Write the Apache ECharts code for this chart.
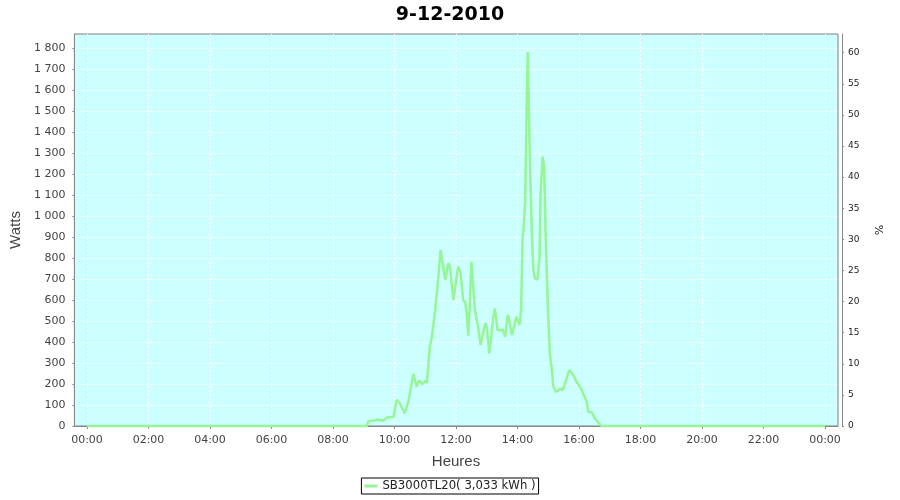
<!DOCTYPE html>
<html>
<head>
<meta charset="utf-8">
<script src="https://cdn.jsdelivr.net/npm/echarts@6/dist/echarts.min.js"></script>
<style>
html,body{margin:0;padding:0;background:#fff;}
#chart{width:900px;height:500px;}
</style>
</head>
<body>
<div id="chart"></div>
<script>
// ---- data ----
const chartTitle = '9-12-2010';
const seriesName = 'SB3000TL20( 3,033 kWh )';
const times = ['00:00','08:53','09:06','09:09','09:12','09:28','09:38','09:45','09:58','10:04','10:10','10:20','10:27','10:34','10:37','10:39','10:43','10:48','10:55','11:00','11:03','11:06','11:09','11:13','11:19','11:25','11:30','11:33','11:39','11:40','11:45','11:48','11:55','11:57','12:04','12:08','12:11','12:14','12:18','12:21','12:24','12:27','12:30','12:32','12:37','12:44','12:48','12:51','12:57','13:00','13:05','13:08','13:13','13:16','13:21','13:27','13:31','13:36','13:41','13:43','13:49','13:52','13:58','14:04','14:07','14:10','14:12','14:15','14:18','14:20','14:22','14:24','14:28','14:31','14:34','14:39','14:43','14:45','14:49','14:52','14:55','14:59','15:03','15:07','15:10','15:15','15:19','15:23','15:28','15:35','15:41','15:49','15:55','16:02','16:08','16:15','16:18','16:25','16:31','16:38','16:44','24:00'];
const watts = [0,0,0,22,25,30,25,40,43,124,110,60,116,211,248,248,187,216,200,216,205,290,378,425,544,695,838,830,695,695,775,760,600,600,759,740,679,600,590,537,430,584,782,775,550,457,386,392,489,470,346,352,520,560,457,455,460,425,529,515,433,440,520,481,552,900,941,1068,1521,1782,1778,1283,917,743,703,697,806,1100,1283,1235,902,584,346,267,187,163,168,178,170,219,267,243,211,187,156,116,68,65,37,16,0,0];
const hourTicks = [0,2,4,6,8,10,12,14,16,18,20,22,24];
const wattsMax = 1866.67;
const percentMax = 63;

const toHours = t => { const p = t.split(':'); return (+p[0]) + (+p[1]) / 60; };
const seriesData = times.map((t, i) => [toHours(t), watts[i]]);
const pad = n => (n < 10 ? '0' : '') + n;

const chart = echarts.init(document.getElementById('chart'));
const dashed = { color: '#ffffff', width: 1, type: [2, 2] };
const axisGray = '#888888';

chart.setOption({
  animation: false,
  backgroundColor: '#ffffff',
  title: {
    text: chartTitle, left: 'center', top: 1,
    textStyle: { fontFamily: 'DejaVu Sans', fontSize: 19, fontWeight: 'bold', color: '#000' }
  },
  legend: {
    data: [seriesName], left: 'center', top: 478,
    icon: 'rect', itemWidth: 13, itemHeight: 3, itemGap: 4,
    padding: [2, 3, 2, 3], borderColor: '#000', borderWidth: 1, backgroundColor: '#fff',
    textStyle: { fontFamily: 'DejaVu Sans', fontSize: 11.7, color: '#222' }
  },
  grid: [
    { left: 74, right: 62, top: 34, bottom: 74, show: true, backgroundColor: '#CCFFFF', borderColor: '#808080', borderWidth: 1 },
    { left: 87, right: 75, top: 34, bottom: 74 }
  ],
  xAxis: [
    { gridIndex: 0, type: 'value', min: 0, max: 1, offset: 4,
      axisLine: { show: true, lineStyle: { color: axisGray } },
      axisTick: { show: false }, axisLabel: { show: false }, splitLine: { show: false } },
    { gridIndex: 1, type: 'value', min: 0, max: 24, interval: 2, offset: 4,
      name: 'Heures', nameLocation: 'middle', nameGap: 24,
      nameTextStyle: { fontFamily: 'Liberation Sans', fontSize: 15, color: '#444' },
      axisLine: { show: false },
      axisTick: { show: true, length: 3, lineStyle: { color: axisGray } },
      axisLabel: { margin: 5, fontFamily: 'DejaVu Sans', fontSize: 11, color: '#444',
        formatter: v => pad(Math.round(v) % 24) + ':00' },
      splitLine: { show: true, lineStyle: dashed } }
  ],
  yAxis: [
    { gridIndex: 0, type: 'value', position: 'left', min: 0, max: wattsMax, interval: 100, offset: 4,
      name: 'Watts', nameLocation: 'middle', nameGap: 45, nameRotate: 90,
      nameTextStyle: { fontFamily: 'Liberation Sans', fontSize: 15, color: '#444' },
      axisLine: { show: true, lineStyle: { color: axisGray } },
      axisTick: { show: true, length: 2, lineStyle: { color: axisGray } },
      axisLabel: { margin: 5, fontFamily: 'DejaVu Sans', fontSize: 11, color: '#444', showMaxLabel: false,
        formatter: v => String(Math.round(v)).replace(/\B(?=(\d{3})+(?!\d))/g, '\u00a0') },
      splitLine: { show: true, showMaxLine: false, showMinLine: false, lineStyle: dashed } },
    { gridIndex: 0, type: 'value', position: 'right', min: 0, max: percentMax, interval: 5, offset: 4,
      name: '%', nameLocation: 'middle', nameGap: 30, nameRotate: -90,
      nameTextStyle: { fontFamily: 'DejaVu Sans', fontSize: 11, color: '#222' },
      axisLine: { show: true, lineStyle: { color: axisGray } },
      axisTick: { show: true, length: 2, lineStyle: { color: axisGray } },
      axisLabel: { margin: 6, fontFamily: 'DejaVu Sans', fontSize: 9, color: '#222', showMaxLabel: false },
      splitLine: { show: false } },
    { gridIndex: 1, type: 'value', min: 0, max: wattsMax, show: false }
  ],
  series: [
    { name: seriesName, type: 'line', xAxisIndex: 1, yAxisIndex: 2,
      data: seriesData, showSymbol: false, symbol: 'none', clip: false,
      lineStyle: { color: '#96F596', width: 2.5 }, itemStyle: { color: '#96F596' } }
  ]
});
</script>
</body>
</html>
